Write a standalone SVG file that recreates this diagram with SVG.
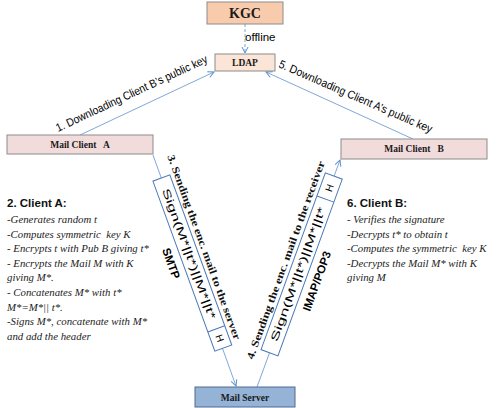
<svg xmlns="http://www.w3.org/2000/svg" width="500" height="408" viewBox="0 0 500 408">
<defs>
<marker id="arr" markerWidth="8" markerHeight="8" refX="7" refY="4" orient="auto" markerUnits="userSpaceOnUse">
<path d="M1,1 L7,4 L1,7" fill="none" stroke="#5B8FD0" stroke-width="1"/>
</marker>
<style>
.box{stroke:#8C8C8C;stroke-width:1}
.ttl{font-family:"Liberation Serif",serif;font-weight:bold;fill:#1a1a1a}
.lbl{font-family:"Liberation Sans",Arial,sans-serif;fill:#000}
.blab{font-family:"Liberation Serif",serif;font-weight:bold;fill:#111}
.it{font-family:"Liberation Serif",serif;font-style:italic;font-size:10.8px;fill:#222}
.hd{font-family:"Liberation Sans",Arial,sans-serif;font-weight:bold;font-size:11.5px;fill:#111}
.con{fill:none;stroke:#7FA8DA;stroke-width:1}
.pkt{fill:#fff;stroke:#4A78B8;stroke-width:1}
</style>
</defs>
<rect width="500" height="408" fill="#fff"/>

<g id="connectors">
<line class="con" x1="245" y1="24" x2="245" y2="53" stroke-dasharray="3,2" stroke="#5B8FD0" marker-end="url(#arr)"/>
<line class="con" x1="80" y1="135" x2="214" y2="72" marker-end="url(#arr)"/>
<line class="con" x1="413" y1="139" x2="266" y2="72" marker-end="url(#arr)"/>
<line class="con" x1="153" y1="155" x2="236" y2="386" marker-end="url(#arr)"/>
<line class="con" x1="257" y1="387" x2="340" y2="160" marker-end="url(#arr)"/>
<text class="lbl" x="245" y="41" font-size="11.5">offline</text>
<text class="lbl" font-size="11.5" transform="translate(58,132) rotate(-25)" textLength="166" lengthAdjust="spacingAndGlyphs">1. Downloading  Client B’s public key</text>
<text class="lbl" font-size="11.5" transform="translate(278,67) rotate(23.5)" textLength="166" lengthAdjust="spacingAndGlyphs">5. Downloading  Client A’s public key</text>
</g>

<g id="kgc">
<rect class="box" x="207" y="2" width="76" height="22" fill="#F8CBAD"/>
<text class="ttl" x="245" y="18" font-size="14" text-anchor="middle">KGC</text>
</g>

<g id="ldap">
<rect class="box" x="215" y="54" width="60" height="17" fill="#FBE5D6"/>
<text class="ttl" x="245" y="66" font-size="9.5" text-anchor="middle">LDAP</text>
</g>

<g id="client-a">
<rect class="box" x="7" y="135" width="146" height="19" fill="#F2DCDB"/>
<text class="ttl" x="80" y="148" font-size="9.5" text-anchor="middle" xml:space="preserve">Mail Client   A</text>
</g>

<g id="client-b">
<rect class="box" x="341" y="139" width="146" height="20" fill="#F2DCDB"/>
<text class="ttl" x="414" y="152" font-size="9.5" text-anchor="middle" xml:space="preserve">Mail Client   B</text>
</g>

<g id="mail-server">
<rect x="195" y="387" width="100" height="20" fill="#95B3D7" stroke="#4F6B8F" stroke-width="1"/>
<text class="ttl" x="245" y="401" font-size="9.5" text-anchor="middle">Mail Server</text>
</g>

<g id="packet-3" transform="translate(153,155) rotate(70)">
<rect class="pkt" x="24.5" y="-9" width="181" height="18"/>
<line class="pkt" x1="185" y1="-9" x2="185" y2="9"/>
<text class="lbl" x="105" y="3.5" font-size="10.5" text-anchor="middle" textLength="138" lengthAdjust="spacingAndGlyphs" fill="#222">Sign(M*||t*)||M*||t*</text>
<text class="lbl" x="195" y="3.5" font-size="10" text-anchor="middle">H</text>
<text class="blab" x="6" y="-13" font-size="10.5" textLength="196" lengthAdjust="spacingAndGlyphs">3. Sending the enc. mail to the server</text>
<text class="lbl" x="108" y="24" font-size="11.5" font-weight="bold" text-anchor="middle">SMTP</text>
</g>

<g id="packet-4" transform="translate(257,387) rotate(-70)">
<rect class="pkt" x="36.5" y="-9" width="188" height="18"/>
<line class="pkt" x1="200" y1="-9" x2="200" y2="9"/>
<text class="lbl" x="120" y="3.5" font-size="10.5" text-anchor="middle" textLength="142" lengthAdjust="spacingAndGlyphs" fill="#222">Sign(M*||t*)||M*||t*</text>
<text class="lbl" x="212" y="3.5" font-size="10" text-anchor="middle">H</text>
<text class="blab" x="24" y="-13" font-size="10.5" textLength="210" lengthAdjust="spacingAndGlyphs">4. Sending the enc. mail to the receiver</text>
<text class="lbl" x="120" y="24" font-size="11.5" font-weight="bold" text-anchor="middle">IMAP/POP3</text>
</g>

<g id="client-a-steps">
<text class="hd" x="7" y="207">2. Client A:</text>
<text class="it" x="7" y="223">-Generates random t</text>
<text class="it" x="7" y="237.6" xml:space="preserve">-Computes symmetric  key K</text>
<text class="it" x="7" y="252.2">- Encrypts t with Pub B giving t*</text>
<text class="it" x="7" y="266.8">- Encrypts the Mail M with K</text>
<text class="it" x="7" y="281.4">giving M*.</text>
<text class="it" x="7" y="296">- Concatenates M* with t*</text>
<text class="it" x="7" y="310.6">M*=M*|| t*.</text>
<text class="it" x="7" y="325.2">-Signs M*, concatenate with M*</text>
<text class="it" x="7" y="339.8">and add the header</text>
</g>

<g id="client-b-steps">
<text class="hd" x="347" y="207">6. Client B:</text>
<text class="it" x="347" y="223">- Verifies the signature</text>
<text class="it" x="347" y="237.6">-Decrypts t* to obtain t</text>
<text class="it" x="347" y="252.2" xml:space="preserve">-Computes the symmetric  key K</text>
<text class="it" x="347" y="266.8">-Decrypts the Mail M* with K</text>
<text class="it" x="347" y="281.4">giving M</text>
</g>
</svg>
